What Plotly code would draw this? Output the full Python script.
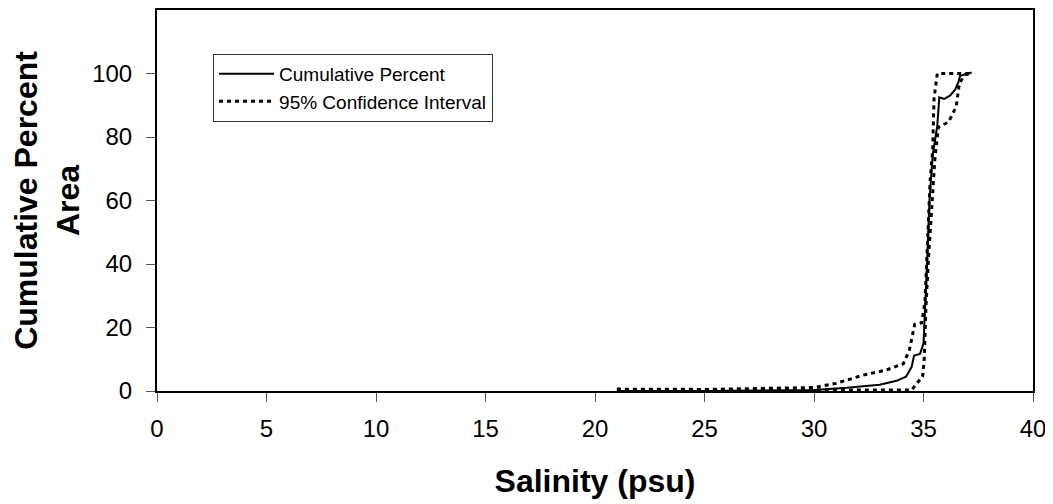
import plotly.graph_objects as go

# Cumulative percent (solid)
cum_x = [21.0, 25.0, 30.0, 31.5, 33.0, 33.77, 34.2, 34.46, 34.57, 34.84, 35.0, 35.03, 35.14, 35.27, 35.42, 35.63, 35.72, 35.95, 36.21, 36.45, 36.59, 36.67, 36.9, 37.2]
cum_y = [0.0, 0.0, 0.3, 1.0, 2.0, 3.2, 4.5, 7.6, 11.2, 11.7, 14.9, 21.0, 36.8, 59.7, 74.3, 83.6, 92.5, 92.0, 93.0, 95.0, 97.2, 99.3, 99.8, 100.3]

# Upper 95% CI (left dotted)
up_x = [21.0, 25.0, 30.0, 31.0, 32.25, 33.3, 34.08, 34.35, 34.6, 34.92, 35.07, 35.19, 35.3, 35.42, 35.48, 35.63, 37.2]
up_y = [0.6, 0.5, 1.1, 2.4, 5.0, 6.6, 8.6, 12.8, 21.0, 21.5, 28.4, 47.0, 66.0, 76.0, 92.0, 100.0, 100.0]

# Lower 95% CI (right dotted)
lo_x = [21.0, 30.0, 34.46, 34.69, 34.96, 35.03, 35.11, 35.23, 35.37, 35.52, 35.68, 36.14, 36.44, 36.5, 36.64, 36.9, 37.2]
lo_y = [0.3, 0.3, 0.3, 2.4, 4.5, 9.7, 26.3, 42.0, 58.6, 73.2, 83.1, 84.7, 88.8, 89.9, 97.0, 99.6, 100.0]

x_ticks = [0, 5, 10, 15, 20, 25, 30, 35, 40]
y_ticks = [0, 20, 40, 60, 80, 100]

DOT = "4px,4px"

fig = go.Figure()
fig.add_trace(go.Scatter(x=up_x, y=up_y, mode="lines", name="95% Confidence Interval",
                         line=dict(color="black", width=3, dash=DOT), showlegend=False))
fig.add_trace(go.Scatter(x=lo_x, y=lo_y, mode="lines", name="95% Confidence Interval",
                         line=dict(color="black", width=3, dash=DOT), showlegend=False))
fig.add_trace(go.Scatter(x=cum_x, y=cum_y, mode="lines", name="Cumulative Percent",
                         line=dict(color="black", width=2)))
fig.add_trace(go.Scatter(x=[None], y=[None], mode="lines", name="95% Confidence Interval",
                         line=dict(color="black", width=3, dash=DOT)))

font_family = "Liberation Sans, Arial, sans-serif"
# page body has an 8px margin, so the figure is sized/offset to compensate
fig.update_layout(
    width=1045, height=496,
    margin=dict(l=149, r=20, t=0, b=113),
    paper_bgcolor="white", plot_bgcolor="white",
    font=dict(family=font_family, color="black", size=24),
    showlegend=True,
    legend=dict(x=0.064, y=0.885, xanchor="left", yanchor="top",
                bgcolor="white", bordercolor="#333333", borderwidth=1,
                font=dict(size=19, family=font_family), tracegroupgap=0,
                itemwidth=55),
    xaxis=dict(range=[0, 40], tickvals=x_ticks, ticktext=[str(v) for v in x_ticks],
               showgrid=False, zeroline=False, showline=True, linecolor="black", linewidth=2,
               mirror=True, ticks="outside", ticklen=9, tickcolor="#555555",
               tickfont=dict(size=24), ticklabelstandoff=6,
               title=dict(text="<b>Salinity (psu)</b>", font=dict(size=32), standoff=29)),
    yaxis=dict(range=[0, 120], tickvals=y_ticks, ticktext=[str(v) for v in y_ticks],
               showgrid=False, zeroline=False, showline=True, linecolor="black", linewidth=2,
               mirror=True, ticks="outside", ticklen=9, tickcolor="#555555",
               tickfont=dict(size=24), ticklabelstandoff=9,
               title=dict(text="<b>Cumulative Percent<br>Area</b>", font=dict(size=32), standoff=13)),
)

fig.write_html("out.html")
